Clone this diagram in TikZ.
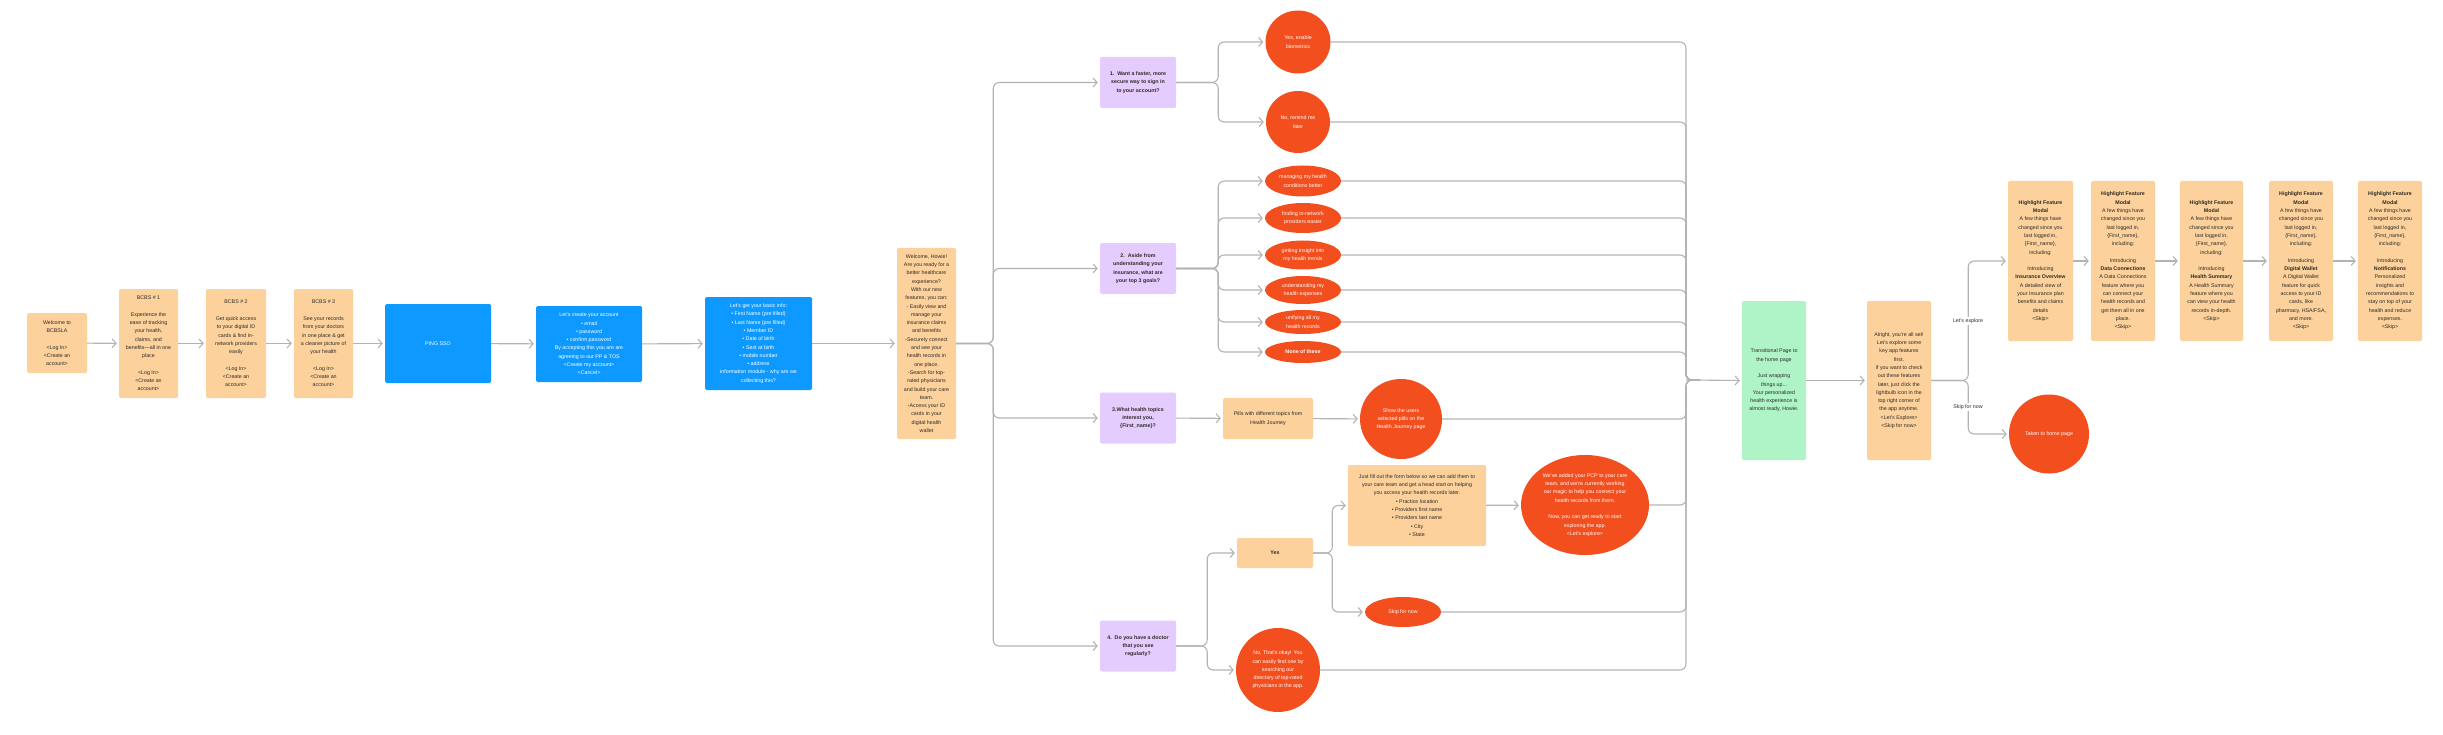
\documentclass[tikz,border=0pt]{standalone}
\usepackage{fontspec}
\setmainfont{Liberation Sans}
\usetikzlibrary{arrows.meta,shapes.geometric}
\definecolor{peachfill}{HTML}{FCD19C}
\definecolor{skyfill}{HTML}{0D99FF}
\definecolor{lilacfill}{HTML}{E4CCFF}
\definecolor{tomatofill}{HTML}{F24E1E}
\definecolor{mintfill}{HTML}{AFF4C6}
\definecolor{wiregray}{HTML}{B3B3B3}
\definecolor{inkdark}{HTML}{2E2A26}
\begin{document}
\begin{tikzpicture}[x=1pt, y=-1pt,
  every node/.style={font=\fontsize{5.3}{8.3}\selectfont, align=center, inner sep=0pt},
  peach/.style={rectangle, rounded corners=1.5pt, fill=peachfill, text=inkdark},
  sky/.style={rectangle, rounded corners=1.5pt, fill=skyfill, text=white},
  ask/.style={rectangle, rounded corners=1.5pt, fill=lilacfill, text=inkdark, font=\fontsize{5.3}{8.3}\selectfont\bfseries, minimum width=76, minimum height=51},
  bubble/.style={ellipse, fill=tomatofill, text=white},
  mint/.style={rectangle, rounded corners=1.5pt, fill=mintfill, text=inkdark},
  link/.style={draw=wiregray, line width=1.1pt, rounded corners=6pt, -{Straight Barb[length=4pt,width=9pt]}, shorten >=2pt},
  wire/.style={draw=wiregray, line width=1.1pt, rounded corners=6pt},
  tag/.style={fill=white, text=inkdark, inner sep=1.5pt}]
\useasboundingbox (0,0) rectangle (2443,735);

% sign-up screens
\node[peach, minimum width=60, minimum height=60] (welcome) at (57,343) {Welcome to\\BCBSLA\\[8.3pt]<Log In>\\<Create an\\account>};
\node[peach, minimum width=59, minimum height=109] (bcbs1) at (148.5,343.5) {BCBS \# 1\\[8.3pt]Experience the\\ease of tracking\\your health,\\claims, and\\benefits—all in one\\place\\[8.3pt]<Log In>\\<Create an\\account>};
\node[peach, minimum width=60, minimum height=109] (bcbs2) at (236,343.5) {BCBS \# 2\\[8.3pt]Get quick access\\to your digital ID\\cards \& find in-\\network providers\\easily\\[8.3pt]<Log In>\\<Create an\\account>};
\node[peach, minimum width=59, minimum height=109] (bcbs3) at (323.5,343.5) {BCBS \# 3\\[8.3pt]See your records\\from your doctors\\in one place \& get\\a cleaner picture of\\your health\\[8.3pt]<Log In>\\<Create an\\account>};
\node[sky, minimum width=106, minimum height=79] (sso) at (438,343.5) {PING SSO};
\node[sky, minimum width=106, minimum height=76] (create) at (589,344) {Let's create your account\\• email\\• password\\• confirm password\\By accepting this you are are\\agreeing to our PP \& TOS\\<Create my account>\\<Cancel>};
\node[sky, minimum width=107, minimum height=93] (basic) at (758.5,343.5) {Let's get your basic info:\\• First Name (pre filled)\\• Last Name (pre filled)\\• Member ID\\• Date of birth\\• Sext at birth\\• mobile number\\• address\\information module - why are we\\collecting this?};
\node[peach, minimum width=59, minimum height=191] (howie) at (926.5,343.5) {Welcome, Howie!\\Are you ready for a\\better healthcare\\experience?\\With our new\\features, you can:\\- Easily view and\\manage your\\insurance claims\\and benefits\\-Securely connect\\and see your\\health records in\\one place.\\-Search for top-\\rated physicians\\and build your care\\team.\\-Access your ID\\cards in your\\digital health\\wallet};

\draw[link] (welcome) -- (bcbs1);
\draw[link] (bcbs1) -- (bcbs2);
\draw[link] (bcbs2) -- (bcbs3);
\draw[link] (bcbs3) -- (sso);
\draw[link] (sso) -- (create);
\draw[link] (create) -- (basic);
\draw[link] (basic) -- (howie);

% onboarding questions
\node[ask] (q1) at (1138,82.5) {1.\ \ Want a faster, more\\secure way to sign in\\to your account?};
\node[ask] (q2) at (1138,268.5) {2.\ \ Aside from\\understanding your\\insurance, what are\\your top 3 goals?};
\node[ask] (q3) at (1138,418) {3.What health topics\\interest you,\\\{First\_name\}?};
\node[ask] (q4) at (1138,646) {4.\ \ Do you have a doctor\\that you see\\regularly?};
\foreach \q in {q1,q2,q3,q4}
  \draw[link] (howie.east) -- ++(37,0) |- (\q.west);

% answers
\node[bubble, minimum width=65, minimum height=63] (yes1) at (1298,42) {Yes, enable\\biometrics};
\node[bubble, minimum width=64, minimum height=62] (no1) at (1298,122) {No, remind me\\later};
\node[bubble, minimum width=76, minimum height=31] (goal1) at (1303,181) {managing my health\\conditions better};
\node[bubble, minimum width=76, minimum height=30] (goal2) at (1303,218) {finding in-network\\providers easier};
\node[bubble, minimum width=76, minimum height=29] (goal3) at (1303,255) {getting insight into\\my health trends};
\node[bubble, minimum width=76, minimum height=28] (goal4) at (1303,290) {understanding my\\health expenses};
\node[bubble, minimum width=76, minimum height=24] (goal5) at (1303,322) {unifying all my\\health records};
\node[bubble, minimum width=76, minimum height=22, font=\fontsize{5.3}{8.3}\selectfont\bfseries] (goal6) at (1303,352) {None of these};
\draw[link] (q1.east) -- ++(42,0) |- (yes1.west);
\draw[link] (q1.east) -- ++(42,0) |- (no1.west);
\foreach \g in {goal1,goal2,goal3,goal4,goal5,goal6}
  \draw[link] (q2.east) -- ++(42,0) |- (\g.west);

\node[peach, minimum width=90, minimum height=41] (pills) at (1268,418.5) {Pills with different topics from\\Health Journey};
\node[bubble, minimum width=82, minimum height=80] (show) at (1401,419) {Show the users\\selected pills on the\\Health Journey page};
\draw[link] (q3) -- (pills);
\draw[link] (pills) -- (show);

\node[peach, minimum width=76, minimum height=30, font=\fontsize{5.3}{8.3}\selectfont\bfseries] (yes4) at (1275,553) {Yes};
\node[bubble, minimum width=84, minimum height=84] (nook) at (1278,670) {No, That's okay! You\\can easily find one by\\searching our\\directory of top-rated\\physicians in the app.};
\node[peach, minimum width=138, minimum height=81] (form) at (1417,505.5) {Just fill out the form below so we can add them to\\your care team and get a head start on helping\\you access your health records later.\\• Practice location\\• Providers first name\\• Providers last name\\• City\\• State};
\node[bubble, minimum width=76, minimum height=30] (skip1) at (1403,612) {Skip for now};
\node[bubble, minimum width=128, minimum height=100] (pcp) at (1585,505) {We've added your PCP to your care\\team, and we're currently working\\our magic to help you connect your\\health records from them.\\[8.3pt]Now, you can get ready to start\\exploring the app.\\<Let's explore>};
\draw[link] (q4.east) -- ++(31,0) |- (yes4.west);
\draw[link] (q4.east) -- ++(31,0) |- (nook.west);
\draw[link] (yes4.east) -- ++(19,0) |- (form.west);
\draw[link] (yes4.east) -- ++(19,0) |- (skip1.west);
\draw[link] (form) -- (pcp);

% everything joins the transition page
\node[mint, minimum width=64, minimum height=159] (trans) at (1774,380.5) {Transitional Page to\\the home page\\[8.3pt]Just wrapping\\things up...\\Your personalized\\health experience is\\almost ready, Howie.};
\coordinate (jn) at (1686,380);
\coordinate (jx) at (1700,380);
\foreach \s in {yes1,no1,goal1,goal2,goal3,goal4,goal5,goal6,show,pcp,skip1,nook}
  \draw[wire] (\s.east) -| (jn) -- (jx);
\draw[link] (jn) -- (trans.west);

\node[peach, minimum width=64, minimum height=159] (alright) at (1899,380.5) {Alright, you're all set!\\Let's explore some\\key app features\\first.\\If you want to check\\out these features\\later, just click the\\lightbulb icon in the\\top right corner of\\the app anytime.\\<Let's Explore>\\<Skip for now>};
\draw[link] (trans) -- (alright);

% feature highlights
\node[peach, minimum width=65, minimum height=160] (hf1) at (2040.5,261) {\textbf{Highlight Feature}\\\textbf{Modal}\\A few things have\\changed since you\\last logged in,\\\{First\_name\},\\including:\\[8.3pt]Introducing\\\textbf{Insurance Overview}\\A detailed view of\\your Insurance plan\\benefits and claims\\details\\<Skip>};
\node[peach, minimum width=64, minimum height=160] (hf2) at (2123,261) {\textbf{Highlight Feature}\\\textbf{Modal}\\A few things have\\changed since you\\last logged in,\\\{First\_name\},\\including:\\[8.3pt]Introducing\\\textbf{Data Connections}\\A Data Connections\\feature where you\\can connect your\\health records and\\get them all in one\\place.\\<Skip>};
\node[peach, minimum width=63, minimum height=160] (hf3) at (2211.5,261) {\textbf{Highlight Feature}\\\textbf{Modal}\\A few things have\\changed since you\\last logged in,\\\{First\_name\},\\including:\\[8.3pt]Introducing\\\textbf{Health Summary}\\A Health Summary\\feature where you\\can view your health\\records in-depth.\\<Skip>};
\node[peach, minimum width=64, minimum height=160] (hf4) at (2301,261) {\textbf{Highlight Feature}\\\textbf{Modal}\\A few things have\\changed since you\\last logged in,\\\{First\_name\},\\including:\\[8.3pt]Introducing\\\textbf{Digital Wallet}\\A Digital Wallet\\feature for quick\\access to your ID\\cards, like\\pharmacy, HSA/FSA,\\and more.\\<Skip>};
\node[peach, minimum width=64, minimum height=160] (hf5) at (2390,261) {\textbf{Highlight Feature}\\\textbf{Modal}\\A few things have\\changed since you\\last logged in,\\\{First\_name\},\\including:\\[8.3pt]Introducing\\\textbf{Notifications}\\Personalized\\insights and\\recommendations to\\stay on top of your\\health and reduce\\expenses.\\<Skip>};
\node[bubble, minimum width=80, minimum height=79] (home) at (2049,434) {Taken to home page};

\draw[link] (alright.east) -- ++(37,0) |- (hf1.west);
\draw[link] (alright.east) -- ++(37,0) |- (home.west);
\node[tag] (lblexplore) at (1968,321) {Let's explore};
\node[tag] (lblskip) at (1968,407) {Skip for now};
\draw[link] (hf1) -- (hf2);
\draw[link] (hf2) -- (hf3);
\draw[link] (hf3) -- (hf4);
\draw[link] (hf4) -- (hf5);
\end{tikzpicture}
\end{document}
